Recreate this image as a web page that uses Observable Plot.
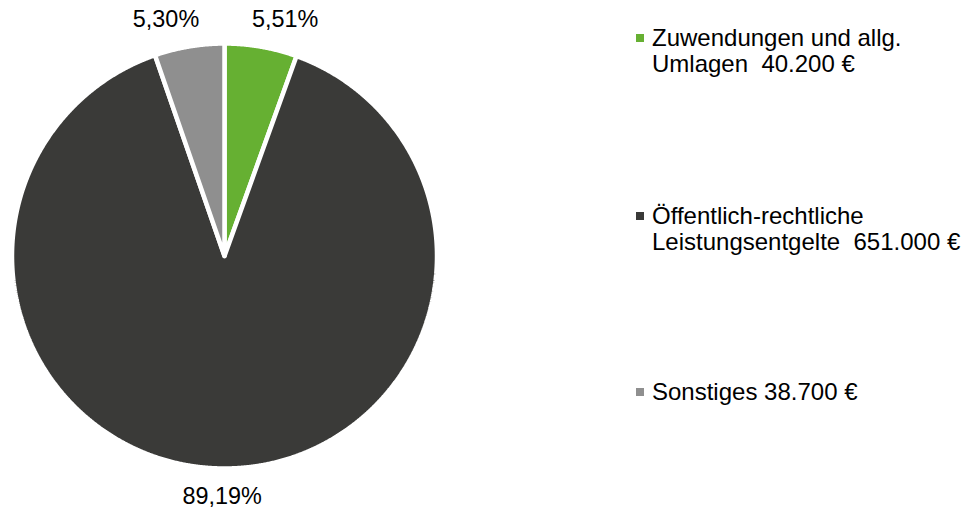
<!DOCTYPE html>
<html>
<head>
<meta charset="utf-8">
<script src="https://cdn.jsdelivr.net/npm/d3@7"></script>
<script src="https://cdn.jsdelivr.net/npm/@observablehq/plot@0.6"></script>
<style>
  html, body { margin: 0; padding: 0; background: #fff; }
  #wrap { position: relative; width: 965px; height: 513px; font-family: "Liberation Sans", Arial, sans-serif; }
  #chart { position: absolute; left: 0; top: 0; }
  .leg { position: absolute; left: 636px; font-size: 24px; line-height: 26px; color: #000; white-space: pre; }
  .leg .sw { position: absolute; left: 0; width: 8px; height: 8px; }
  .leg .tx { position: absolute; left: 16px; top: 0; }
</style>
</head>
<body>
<div id="wrap"><div id="chart"></div></div>
<script>
// ---- data ----
const categories = ["Zuwendungen und allg. Umlagen", "Öffentlich-rechtliche Leistungsentgelte", "Sonstiges"];
const amounts = [40200, 651000, 38700];
const percentLabels = ["5,51%", "89,19%", "5,30%"];
const legendLines = [
  ["Zuwendungen und allg.", "Umlagen  40.200 €"],
  ["Öffentlich-rechtliche", "Leistungsentgelte  651.000 €"],
  ["Sonstiges 38.700 €"]
];
const colors = ["#66b032", "#3a3a38", "#8f8f8f"];

// ---- geometry from data ----
const total = d3.sum(amounts);
const arcs = d3.pie().sort(null).value(d => d)(amounts);
function slicePoints(a, i) {
  const pts = [{x: 0, y: 0, k: i}];
  const n = Math.max(2, Math.ceil((a.endAngle - a.startAngle) / (Math.PI / 720)));
  for (let j = 0; j <= n; j++) {
    const t = a.startAngle + (a.endAngle - a.startAngle) * j / n;
    pts.push({x: Math.sin(t), y: Math.cos(t), k: i});
  }
  pts.push({x: 0, y: 0, k: i});
  return pts;
}
const labels = arcs.map((a, i) => {
  const m = (a.startAngle + a.endAngle) / 2;
  return {x: Math.sin(m) * 1.66, y: Math.cos(m) * 1.13, text: percentLabels[i]};
});

const r = 212.5, cx = 224, cy = 255.5;
const plot = Plot.plot({
  width: 965,
  height: 513,
  margin: 0,
  x: {domain: [-1, 1], range: [cx - r, cx + r], axis: null},
  y: {domain: [-1, 1], range: [cy + r, cy - r], axis: null},
  style: {fontFamily: "'Liberation Sans', Arial, sans-serif", background: "#fff"},
  marks: [
    ...arcs.map((a, i) => Plot.line(slicePoints(a, i), {
      x: "x", y: "y", fill: colors[i], stroke: "#fff", strokeWidth: 4.5, strokeLinejoin: "miter", curve: "linear"
    })),
    Plot.text(labels, {x: "x", y: "y", text: "text", fontSize: 23.4, fill: "#000", textAnchor: "middle", lineAnchor: "middle"})
  ]
});
document.getElementById("chart").appendChild(plot);

// ---- legend ----
const wrap = document.getElementById("wrap");
const tops = [25, 203, 379];
legendLines.forEach((lines, i) => {
  const d = document.createElement("div");
  d.className = "leg";
  d.style.top = tops[i] + "px";
  const sw = document.createElement("div");
  sw.className = "sw";
  sw.style.background = colors[i];
  sw.style.top = "9px";
  d.appendChild(sw);
  const tx = document.createElement("div");
  tx.className = "tx";
  tx.textContent = lines.join("\n");
  d.appendChild(tx);
  wrap.appendChild(d);
});
</script>
</body>
</html>
